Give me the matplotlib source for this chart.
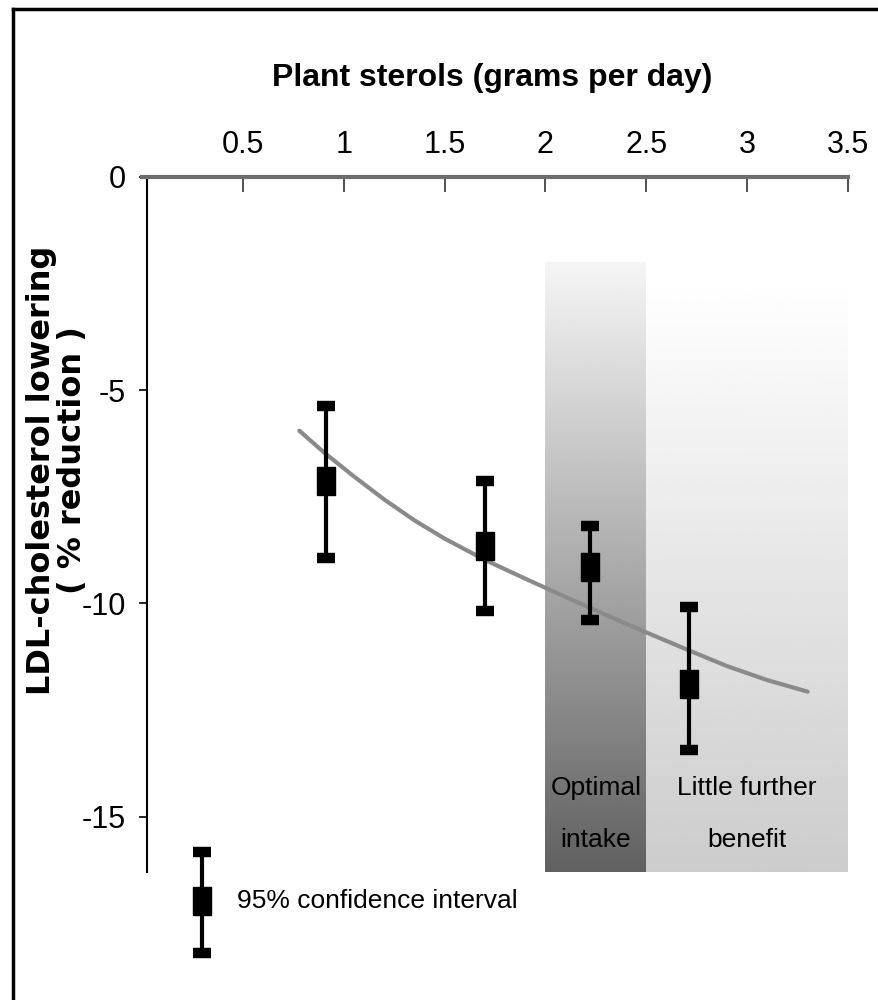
import numpy as np
import matplotlib.pyplot as plt
from matplotlib.lines import Line2D

# plant sterol intake (g/day) and mean LDL change (%) with 95% CI limits
dose = [0.91, 1.70, 2.22, 2.71]
ldl_mean = [-7.12, -8.65, -9.14, -11.90]
ci_upper = [-5.37, -7.12, -8.18, -10.08]
ci_lower = [-8.93, -10.18, -10.38, -13.43]

# fitted dose-response curve
fit_x = [0.78, 0.9, 1.05, 1.2, 1.35, 1.5, 1.7, 1.9, 2.1, 2.3, 2.5, 2.7, 2.9, 3.1, 3.3]
fit_y = [-5.95, -6.45, -7.02, -7.56, -8.05, -8.48, -8.98, -9.42, -9.85,
         -10.27, -10.68, -11.08, -11.47, -11.8, -12.07]

# shaded intake bands: (x start, x end, top)
optimal_band = (2.0, 2.5, -2.0)
further_band = (2.5, 3.5, -2.4)

xticks = [0.5, 1, 1.5, 2, 2.5, 3, 3.5]
xtick_labels = ['0.5', '1', '1.5', '2', '2.5', '3', '3.5']
yticks = [0, -5, -10, -15]
ytick_labels = ['0', '-5', '-10', '-15']

# key symbol
key_x = 0.30
key_mean = -16.97
key_hi = -15.82
key_lo = -18.19

sans = ['Liberation Sans', 'DejaVu Sans']
ymin = -16.3

fig = plt.figure(figsize=(8.79, 10), dpi=100)
ax = fig.add_axes([0.1615, 0.128, 0.8032, 0.695])

# gradient bands
ramp = np.linspace(0, 1, 256)[:, None]
x0, x1, top = optimal_band
ax.imshow(0.96 - 0.58 * ramp, extent=[x0, x1, ymin, top], cmap='gray',
          vmin=0, vmax=1, aspect='auto', origin='upper', zorder=0)
x0, x1, top = further_band
ax.imshow(1.0 - 0.2 * ramp, extent=[x0, x1, ymin, top], cmap='gray',
          vmin=0, vmax=1, aspect='auto', origin='upper', zorder=0)

ax.plot(fit_x, fit_y, color='#8a8a8a', lw=3, solid_capstyle='round',
        solid_joinstyle='round', zorder=2)

bar_marker = [(-0.33, -0.5), (0.33, -0.5), (0.33, 0.5), (-0.33, 0.5), (-0.33, -0.5)]


def draw_ci(xs, mean, hi, lo, clip=True):
    mean = np.atleast_1d(mean)
    err = [mean - np.atleast_1d(lo), np.atleast_1d(hi) - mean]
    eb = ax.errorbar(xs, mean, yerr=err, fmt='none', ecolor='black',
                     elinewidth=3, capsize=6.5, capthick=7.5, zorder=3)
    for art in eb.lines[1] + eb.lines[2]:
        art.set_clip_on(clip)
    ax.plot(xs, mean, ls='none', marker=bar_marker, ms=20, color='black',
            zorder=4, clip_on=clip)


draw_ci(dose, ldl_mean, ci_upper, ci_lower)
draw_ci([key_x], key_mean, key_hi, key_lo, clip=False)
ax.text(0.47, key_mean, '95% confidence interval', family=sans, fontsize=19,
        va='center', ha='left')

# band captions
for x, lines in [(2.25, ['Optimal', 'intake']),
                 (3.0, ['Little further', 'benefit'])]:
    ax.text(x, -14.32, lines[0], family=sans, fontsize=19, ha='center', va='center')
    ax.text(x, -15.55, lines[1], family=sans, fontsize=19, ha='center', va='center')

ax.set_xlim(0, 3.5)
ax.set_ylim(ymin, 0)

for side in ['right', 'bottom']:
    ax.spines[side].set_visible(False)
ax.spines['top'].set_color('#6e6e6e')
ax.spines['top'].set_linewidth(3)
ax.spines['left'].set_position(('data', 0.025))
ax.spines['left'].set_linewidth(1.5)

ax.xaxis.tick_top()
ax.set_xticks(xticks)
ax.set_xticklabels(xtick_labels, family=sans, fontsize=22)
ax.tick_params(axis='x', direction='in', length=11, width=1.2,
               color='#333333', pad=12)
ax.set_yticks(yticks)
ax.set_yticklabels(ytick_labels, family=sans, fontsize=22)
ax.tick_params(axis='y', direction='out', length=6, width=1.2, pad=9)

fig.text(0.56, 0.922, 'Plant sterols (grams per day)', family=sans,
         fontweight='bold', fontsize=23, ha='center', va='center')
fig.text(0.047, 0.53, 'LDL-cholesterol lowering', fontweight='heavy',
         fontsize=23, rotation=90, ha='center', va='center')
fig.text(0.083, 0.54, '( % reduction )', fontweight='heavy',
         fontsize=23, rotation=90, ha='center', va='center')

# frame around the graphic
fig.add_artist(Line2D([13 / 879, 1], [1 - 9 / 1000] * 2, color='black', lw=2.5,
                      transform=fig.transFigure))
fig.add_artist(Line2D([13 / 879] * 2, [0, 1 - 9 / 1000], color='black', lw=2.5,
                      transform=fig.transFigure))

fig.savefig('out.png', dpi=100, facecolor='white')
